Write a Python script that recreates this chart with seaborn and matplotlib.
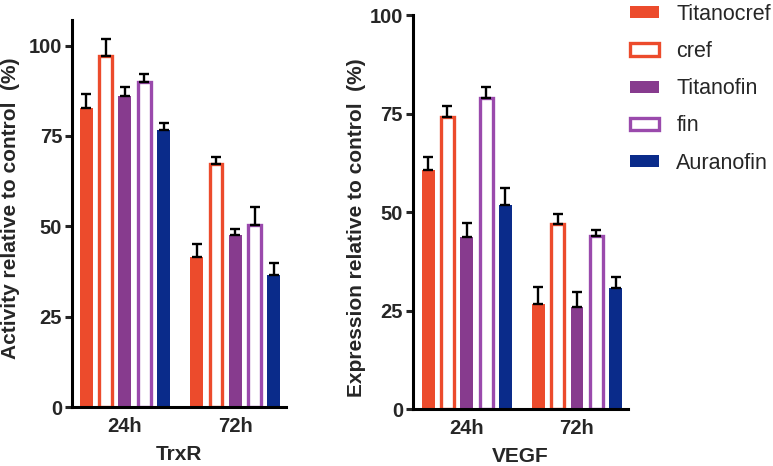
import numpy as np
import pandas as pd
import matplotlib
matplotlib.use("Agg")
import matplotlib.pyplot as plt
import seaborn as sns

# Data
times = ["24h", "72h"]
compounds = ["Titanocref", "cref", "Titanofin", "fin", "Auranofin"]
hollow = [False, True, False, True, False]
colors = ["#EC4B2C", "#EC4B2C", "#873B8E", "#9A4AAC", "#0A2B8A"]

# TrxR activity (%), per compound: [24h, 72h]
trxr_mean = [[82.7, 41.6], [97.2, 67.2], [86.1, 47.5], [89.8, 50.3], [76.5, 36.4]]
trxr_err = [[4.0, 3.5], [4.6, 2.1], [2.4, 1.7], [2.4, 5.0], [2.0, 3.3]]

# VEGF expression (%), per compound: [24h, 72h]
vegf_mean = [[60.7, 26.6], [74.1, 47.0], [43.6, 25.8], [79.0, 44.0], [51.8, 30.8]]
vegf_err = [[3.2, 4.4], [2.8, 2.5], [3.6, 3.9], [2.8, 1.5], [4.2, 2.7]]

sns.set_style("ticks")
plt.rcParams["font.family"] = ["Liberation Sans", "DejaVu Sans"]


def make_df(means):
    rows = []
    for c, vals in zip(compounds, means):
        for t, v in zip(times, vals):
            rows.append({"time": t, "compound": c, "value": v})
    return pd.DataFrame(rows)


def draw_panel(ax, means, errs, ylabel, xlabel, ymax, yticks, xlim, ylab_pos):
    sns.barplot(
        data=make_df(means), x="time", y="value", hue="compound",
        hue_order=compounds, order=times, palette=colors,
        width=0.875, gap=0.33, errorbar=None, legend=False,
        linewidth=0, saturation=1, ax=ax,
    )
    bar_conts = list(ax.containers)
    for i, cont in enumerate(bar_conts):
        xs, hs = [], []
        for bar in cont.patches:
            if hollow[i]:
                bar.set_facecolor("white")
                bar.set_edgecolor(colors[i])
                bar.set_linewidth(2.4)
            xs.append(bar.get_x() + bar.get_width() / 2)
            hs.append(bar.get_height())
        ax.errorbar(xs, hs, yerr=[np.zeros(len(hs)), errs[i]], fmt="none",
                    ecolor="black", elinewidth=1.7, capsize=3.5, capthick=1.7,
                    zorder=1)
    ax.set_ylim(0, ymax)
    ax.set_xlim(*xlim)
    ax.set_yticks(yticks)
    sns.despine(ax=ax)
    for s in ["left", "bottom"]:
        ax.spines[s].set_linewidth(2.2)
        ax.spines[s].set_color("black")
    ax.tick_params(axis="y", length=5, width=2.2, labelsize=14.5, pad=2)
    ax.tick_params(axis="x", length=0, labelsize=14.5, pad=7)
    for lab in ax.get_xticklabels() + ax.get_yticklabels():
        lab.set_fontweight("bold")
    ax.set_ylabel(ylabel, fontsize=15, fontweight="bold")
    ax.set_xlabel(xlabel, fontsize=15, fontweight="bold", labelpad=7)
    ax.yaxis.set_label_coords(*ylab_pos)
    return bar_conts


fig = plt.figure(figsize=(7.73, 4.66), dpi=100)
ax1 = fig.add_axes([0.0931, 0.1266, 0.277, 0.830])
ax2 = fig.add_axes([0.534, 0.1223, 0.278, 0.8455])

draw_panel(ax1, trxr_mean, trxr_err, "Activity relative to control  (%)", "TrxR",
           107, [0, 25, 50, 75, 100], (-0.48, 1.46), (-0.243, 0.514))
conts = draw_panel(ax2, vegf_mean, vegf_err, "Expression relative to control  (%)", "VEGF",
                   100, [0, 25, 50, 75, 100], (-0.49, 1.46), (-0.219, 0.46))

fig.legend(handles=conts, labels=compounds, loc="upper left",
           bbox_to_anchor=(630 / 773, 1 - 4 / 466), frameon=False,
           borderpad=0, borderaxespad=0, fontsize=15.5, handlelength=1.35,
           handleheight=0.5, handletextpad=0.8, labelspacing=0.75)

fig.savefig("out.png", dpi=100)
